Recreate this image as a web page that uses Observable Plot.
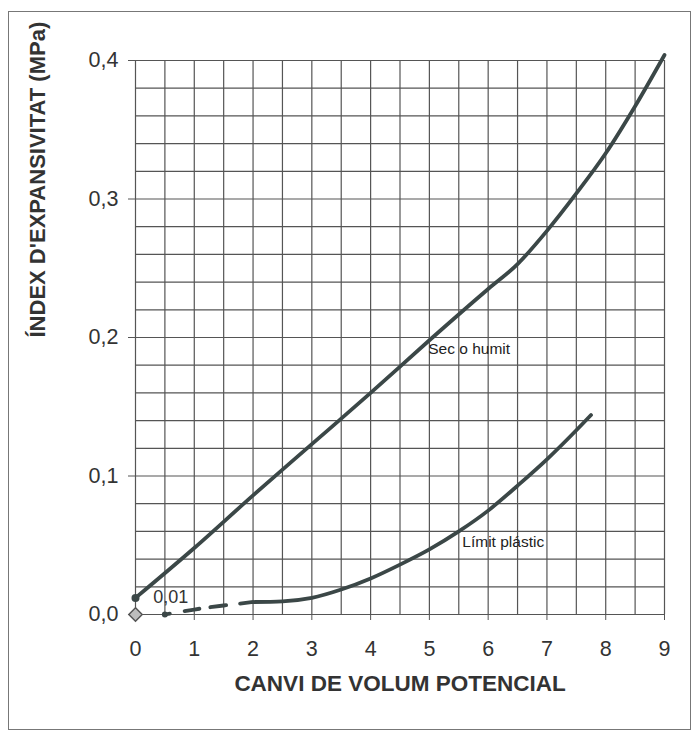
<!DOCTYPE html>
<html>
<head>
<meta charset="utf-8">
<script src="https://cdn.jsdelivr.net/npm/d3@7"></script>
<script src="https://cdn.jsdelivr.net/npm/@observablehq/plot@0.6"></script>
<style>
  html, body { margin: 0; padding: 0; background: #fff; }
  #wrap { position: relative; width: 694px; height: 735px; overflow: hidden; }
  #frame { position: absolute; left: 8px; top: 11px; width: 683px; height: 719px; border: 1px solid #777; box-sizing: border-box; }
  #chart { position: absolute; left: 0; top: 0; }
</style>
</head>
<body>
<div id="wrap"><div id="frame"></div><div id="chart"></div></div>
<script>
// "Sec o humit" curve
const humitX = [0, 1, 2, 3, 4, 5, 6, 6.5, 7, 7.5, 8, 8.5, 9];
const humitY = [0.012, 0.048, 0.086, 0.123, 0.160, 0.198, 0.235, 0.253, 0.277, 0.304, 0.333, 0.367, 0.404];

// "Límit plàstic" curve: dashed start, then solid
const plasticDashX = [0.5, 1, 1.5, 2];
const plasticDashY = [0, 0.0036, 0.0065, 0.009];
const plasticX = [2, 2.5, 3, 3.5, 4, 4.5, 5, 5.5, 6, 6.5, 7, 7.5, 7.75];
const plasticY = [0.009, 0.0095, 0.012, 0.018, 0.026, 0.036, 0.047, 0.06, 0.075, 0.093, 0.112, 0.133, 0.144];

// Axis ticks
const xTicks = [0, 1, 2, 3, 4, 5, 6, 7, 8, 9];
const yTicks = [0, 0.1, 0.2, 0.3, 0.4];

// Annotations
const curveLabels = [
  {x: 4.98, y: 0.192, text: "Sec o humit"},
  {x: 5.56, y: 0.052, text: "Límit plástic"}
];
const valueLabels = [{x: 0.3, y: 0.0125, text: "0,01"}];

const humit = humitX.map((x, i) => ({x, y: humitY[i]}));
const plasticDash = plasticDashX.map((x, i) => ({x, y: plasticDashY[i]}));
const plastic = plasticX.map((x, i) => ({x, y: plasticY[i]}));

const lineColor = "#3b4747";
const gridColor = "#555";
const comma = d => d.toFixed(1).replace(".", ",");

const chart = Plot.plot({
  width: 694,
  height: 735,
  marginLeft: 135,
  marginRight: 30,
  marginTop: 60,
  marginBottom: 121,
  style: {fontFamily: "'Liberation Sans', Arial, sans-serif", color: "#333", background: "transparent"},
  x: {domain: [0, 9]},
  y: {domain: [0, 0.4]},
  marks: [
    Plot.gridX(d3.range(0, 9.001, 0.5), {stroke: gridColor, strokeOpacity: 1, strokeWidth: 1.2}),
    Plot.gridY(d3.range(0, 0.4001, 0.02), {stroke: gridColor, strokeOpacity: 1, strokeWidth: 1.2}),
    Plot.axisX(xTicks, {tickSize: 6, tickPadding: 20, fontSize: 21.5, label: null, tickFormat: d => String(d), stroke: gridColor}),
    Plot.axisY(yTicks, {tickSize: 7, tickPadding: 10, fontSize: 21.5, label: null, tickFormat: comma, stroke: gridColor}),
    Plot.line(humit, {x: "x", y: "y", curve: "monotone-x", stroke: lineColor, strokeWidth: 3.8}),
    Plot.line(plasticDash, {x: "x", y: "y", curve: "monotone-x", stroke: lineColor, strokeWidth: 3.8, strokeDasharray: "5,15,15,11,16,14,200"}),
    Plot.line(plastic, {x: "x", y: "y", curve: "monotone-x", stroke: lineColor, strokeWidth: 3.8}),
    Plot.dot([humit[0]], {x: "x", y: "y", r: 4, fill: lineColor}),
    Plot.dot([plasticDash[0]], {x: "x", y: "y", r: 3, fill: lineColor}),
    Plot.dot([{x: 0, y: 0}], {x: "x", y: "y", symbol: "diamond2", r: 6, fill: "#bdbdbd", stroke: "#555", strokeWidth: 1.5}),
    Plot.text(curveLabels, {x: "x", y: "y", text: "text", textAnchor: "start", fontSize: 15.5, fill: "#222"}),
    Plot.text(valueLabels, {x: "x", y: "y", text: "text", textAnchor: "start", fontSize: 18, fill: "#333"}),
    Plot.text(["CANVI DE VOLUM POTENCIAL"], {text: d => d, frameAnchor: "bottom", dy: 76, fontSize: 22.5, fontWeight: "bold", fill: "#333"}),
    Plot.text(["ÍNDEX D'EXPANSIVITAT (MPa)"], {text: d => d, frameAnchor: "left", dx: -98, rotate: -90, fontSize: 22, fontWeight: "bold", fill: "#333"})
  ]
});
document.getElementById("chart").appendChild(chart);
</script>
</body>
</html>
